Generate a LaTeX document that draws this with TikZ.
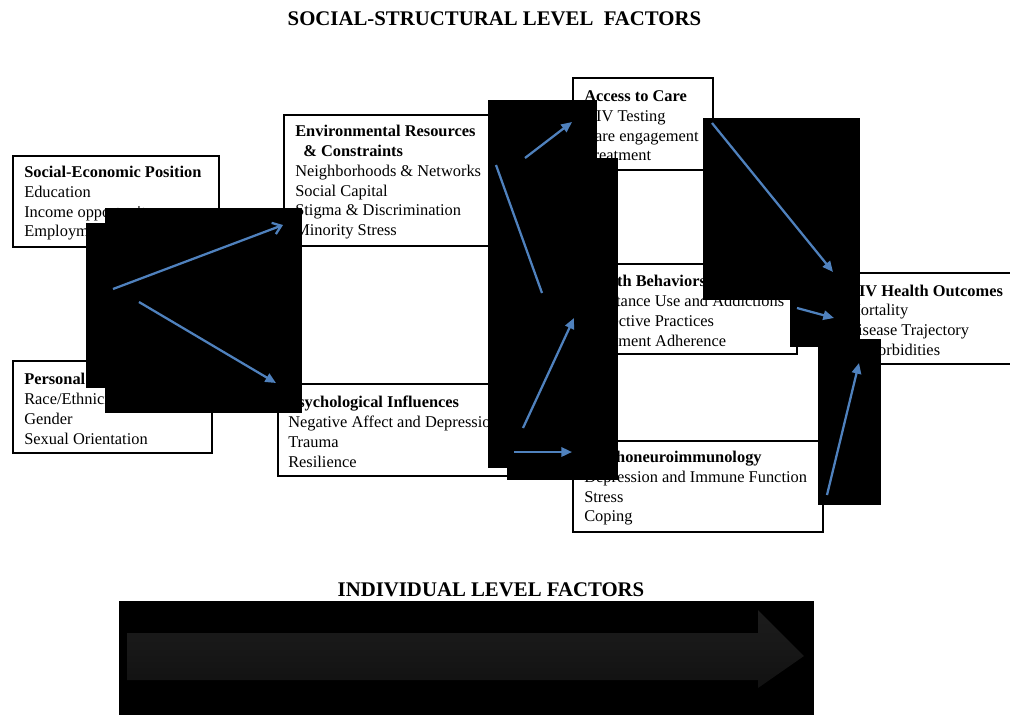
\documentclass[tikz,border=0pt]{standalone}
\usepackage{fontspec}
\setmainfont{Liberation Serif}
\usetikzlibrary{arrows.meta}
\definecolor{arrowblue}{HTML}{4F81BD}
\definecolor{shaftA}{HTML}{1C1C1C}
\definecolor{shaftB}{HTML}{111111}
\begin{document}
\begin{tikzpicture}[x=0.75pt,y=-0.75pt,
  frame/.style={draw=black,line width=1.5pt,fill=white,anchor=north west,inner sep=0pt},
  txt/.style={anchor=west,align=left,inner sep=0pt,yshift=-1.3pt,font=\fontsize{12.3}{14.9}\selectfont},
  heading/.style={anchor=base,inner sep=0pt,font=\fontsize{15.6}{18}\selectfont\bfseries},
  blk/.style={fill=black},
  conn/.style={draw=arrowblue,line width=1.7pt,-{Triangle[length=8pt,width=7pt]}},
  openconn/.style={draw=arrowblue,line width=1.7pt,-{Straight Barb[length=6pt,width=9pt,line width=1.7pt]}},
  plainconn/.style={draw=arrowblue,line width=1.7pt},
]
\useasboundingbox (0,0) rectangle (1010,715);
\fill[white] (0,0) rectangle (1010,715);

% titles
\node[heading] (title) at (494.5,25) {SOCIAL-STRUCTURAL LEVEL\ \ FACTORS};
\node[heading] (indiv) at (491,596) {INDIVIDUAL LEVEL FACTORS};

% boxes
\node[frame,minimum width=154.5pt,minimum height=68.25pt] (sep) at (12,155) {};
\node[txt] (sept) at ([xshift=9pt]sep.west) {\textbf{Social-Economic Position}\\Education\\Income opportunity\\Employment};

\node[frame,minimum width=149.25pt,minimum height=69pt] (pers) at (12,360) {};
\node[txt] (perst) at ([xshift=9pt]pers.west) {\textbf{Personal Characteristics}\\Race/Ethnicity\\Gender\\Sexual Orientation};

\node[frame,minimum width=170.25pt,minimum height=98.25pt] (env) at (283,114) {};
\node[txt] (envt) at ([xshift=9pt]env.west) {\textbf{Environmental Resources}\\\hspace*{6pt}\textbf{\& Constraints}\\Neighborhoods \& Networks\\Social Capital\\Stigma \& Discrimination\\Minority Stress};

\node[frame,minimum width=197.25pt,minimum height=69pt] (psy) at (277,383) {};
\node[txt] (psyt) at ([xshift=8.25pt]psy.west) {\textbf{Psychological Influences}\\Negative Affect and Depression\\Trauma\\Resilience};

\node[frame,minimum width=105pt,minimum height=69pt] (acc) at (572,77) {};
\node[txt] (acct) at ([xshift=9pt]acc.west) {\textbf{Access to Care}\\HIV Testing\\Care engagement\\Treatment};

\node[frame,minimum width=168pt,minimum height=67.5pt] (hb) at (572,263) {};
\node[txt] (hbt) at ([xshift=9pt]hb.west) {\textbf{Health Behaviors}\\Substance Use and Addictions\\Protective Practices\\Treatment Adherence};

\node[frame,minimum width=187.5pt,minimum height=68.25pt] (pni) at (572,440) {};
\node[txt] (pnit) at ([xshift=9pt]pni.west) {\textbf{Psychoneuroimmunology}\\Depression and Immune Function\\Stress\\Coping};

\node[frame,minimum width=140pt,minimum height=68.25pt] (hiv) at (834,272) {};
\node[txt] (hivt) at ([xshift=9pt]hiv.west) {\textbf{HIV Health Outcomes}\\Mortality\\Disease Trajectory\\Comorbidities};

% black panels
\fill[blk] (86,223) rectangle (290,388);
\fill[blk] (105,208) rectangle (302,413);
\fill[blk] (488,100) rectangle (597,468);
\fill[blk] (507,158) rectangle (618,480);
\fill[blk] (703,118) rectangle (860,300);
\fill[blk] (790,260) rectangle (860,347);
\fill[blk] (818,339) rectangle (881,505);
\fill[blk] (119,601) rectangle (814,715);

% bottom big arrow
\shade[top color=shaftA,bottom color=shaftB,middle color=shaftA!60!shaftB]
  (127,633) -- (758,633) -- (758,610) -- (804,656) -- (758,688) -- (758,680) -- (127,680) -- cycle;

% arrow end points
\coordinate (a1s) at (113,289); \coordinate (a1e) at (283,225);
\coordinate (a2s) at (139,302); \coordinate (a2e) at (276,383);
\coordinate (a3s) at (525,158); \coordinate (a3e) at (572,122);
\coordinate (l4s) at (496,165); \coordinate (l4e) at (542,293);
\coordinate (a5s) at (523,428); \coordinate (a5e) at (574,318);
\coordinate (a6s) at (514,452); \coordinate (a6e) at (572,452);
\coordinate (a7s) at (712,123); \coordinate (a7e) at (833,272);
\coordinate (a8s) at (797,308); \coordinate (a8e) at (834,318);
\coordinate (a9s) at (827,495); \coordinate (a9e) at (859,363);

\draw[openconn] (a1s) -- (a1e);
\draw[conn] (a2s) -- (a2e);
\draw[conn] (a3s) -- (a3e);
\draw[plainconn] (l4s) -- (l4e);
\draw[conn] (a5s) -- (a5e);
\draw[conn] (a6s) -- (a6e);
\draw[conn] (a7s) -- (a7e);
\draw[conn] (a8s) -- (a8e);
\draw[conn] (a9s) -- (a9e);
\end{tikzpicture}
\end{document}
